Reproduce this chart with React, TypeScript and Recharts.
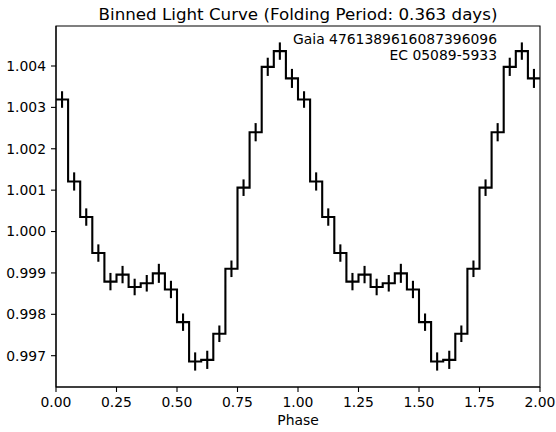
import React from 'react';
import {
  ComposedChart,
  Line,
  Scatter,
  ErrorBar,
  XAxis,
  YAxis,
  ReferenceArea,
} from 'recharts';

// phase bin centres for one cycle (bin width 0.05)
const binPhase = [
  0.025, 0.075, 0.125, 0.175, 0.225, 0.275, 0.325, 0.375, 0.425, 0.475,
  0.525, 0.575, 0.625, 0.675, 0.725, 0.775, 0.825, 0.875, 0.925, 0.975,
];
const binFlux = [
  1.00319, 1.00121, 1.00035, 0.99948, 0.99879, 0.99896, 0.99866, 0.99875, 0.99899, 0.9986,
  0.99781, 0.99686, 0.9969, 0.99753, 0.9991, 1.00106, 1.0024, 1.00398, 1.00436, 1.0037,
];
const binErr = [
  0.0002, 0.00022, 0.00021, 0.00021, 0.00021, 0.00021, 0.0002, 0.0002, 0.00023, 0.00021,
  0.00021, 0.00022, 0.00022, 0.0002, 0.0002, 0.0002, 0.00022, 0.00022, 0.00021, 0.00023,
];
const cycles = [0, 1];
const binWidth = 0.05;

const xTicks = [0, 0.25, 0.5, 0.75, 1, 1.25, 1.5, 1.75, 2];
const yTicks = [0.997, 0.998, 0.999, 1.0, 1.001, 1.002, 1.003, 1.004];

const title = 'Binned Light Curve (Folding Period: 0.363 days)';
const sourceIds = ['Gaia 4761389616087396096', 'EC 05089-5933'];

// points at the bin centres (for the error bars)
const points = cycles.flatMap((c) =>
  binPhase.map((p, i) => ({ phase: p + c, flux: binFlux[i], err: binErr[i] }))
);

// left bin edges for the step trace, plus a closing point at the last edge
const steps = points.map((d) => ({ phase: d.phase - binWidth / 2, flux: d.flux }));
steps.push({ phase: points[points.length - 1].phase + binWidth / 2, flux: points[points.length - 1].flux });

// matplotlib-style autoscale: data extent with 5% padding
const lo = Math.min(...points.map((d) => d.flux - d.err));
const hi = Math.max(...points.map((d) => d.flux + d.err));
const pad = (hi - lo) * 0.05;
const yDomain: [number, number] = [lo - pad, hi + pad];

const FONT = '"DejaVu Sans", sans-serif';
const W = 556;
const H = 432;

export default function App() {
  const tickStyle = { fill: '#000', fontSize: 13.9, fontFamily: FONT };
  return (
    <div style={{ position: 'absolute', left: 0, top: 0, width: W, height: H, background: '#fff' }}>
      <ComposedChart width={W} height={H} margin={{ top: 26, right: 16, left: 6, bottom: 0 }}>
        <XAxis
          dataKey="phase"
          type="number"
          domain={[0, 2]}
          ticks={xTicks}
          tickFormatter={(v: number) => v.toFixed(2)}
          height={45}
          tick={tickStyle}
          tickSize={5}
          tickMargin={5}
          tickLine={{ stroke: '#000', strokeWidth: 1.1 }}
          axisLine={{ stroke: '#000', strokeWidth: 1.1 }}
          allowDuplicatedCategory={false}
        />
        <YAxis
          type="number"
          domain={yDomain}
          ticks={yTicks}
          tickFormatter={(v: number) => v.toFixed(3)}
          width={50}
          tick={tickStyle}
          tickSize={5}
          tickMargin={5}
          tickLine={{ stroke: '#000', strokeWidth: 1.1 }}
          axisLine={{ stroke: '#000', strokeWidth: 1.1 }}
          allowDataOverflow
        />
        <ReferenceArea
          x1={0}
          x2={2}
          y1={yDomain[0]}
          y2={yDomain[1]}
          fill="none"
          stroke="#000"
          strokeWidth={1.1}
        />
        <Line
          data={steps}
          dataKey="flux"
          type="stepAfter"
          stroke="#000"
          strokeWidth={2.1}
          dot={false}
          activeDot={false}
          isAnimationActive={false}
        />
        <Scatter data={points} dataKey="flux" shape={() => <g />} isAnimationActive={false}>
          <ErrorBar dataKey="err" direction="y" width={0} stroke="#000" strokeWidth={2.1} />
        </Scatter>
      </ComposedChart>
      <svg
        width={W}
        height={H}
        style={{ position: 'absolute', left: 0, top: 0, pointerEvents: 'none' }}
      >
        <text x={298} y={19.5} textAnchor="middle" fontSize={16.7} fontFamily={FONT} fill="#000">
          {title}
        </text>
        {sourceIds.map((s, i) => (
          <text
            key={s}
            x={497}
            y={43.5 + i * 16.3}
            textAnchor="end"
            fontSize={13.9}
            fontFamily={FONT}
            fill="#000"
          >
            {s}
          </text>
        ))}
        <text x={298} y={424.5} textAnchor="middle" fontSize={13.9} fontFamily={FONT} fill="#000">
          Phase
        </text>
      </svg>
    </div>
  );
}
